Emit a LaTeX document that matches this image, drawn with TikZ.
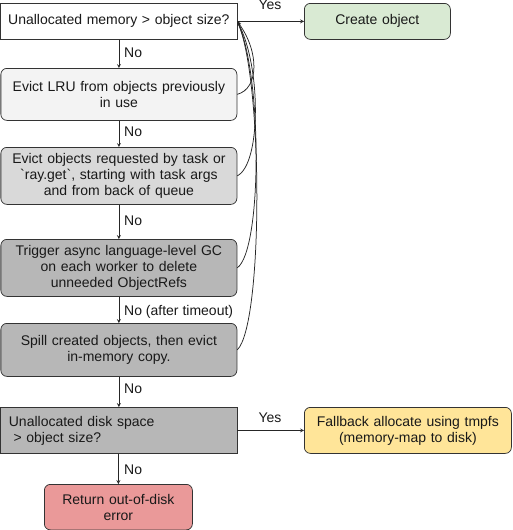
\documentclass[tikz,border=0pt]{standalone}
\usepackage{fontspec}
\setmainfont{Liberation Sans}
\usetikzlibrary{positioning}

\definecolor{creategreen}{HTML}{D9EAD3}
\definecolor{lightgrey}{HTML}{F3F3F3}
\definecolor{midgrey}{HTML}{D9D9D9}
\definecolor{darkgrey}{HTML}{B7B7B7}
\definecolor{fallbackyellow}{HTML}{FFE599}
\definecolor{errorred}{HTML}{EA9999}

\begin{document}
\begin{tikzpicture}[x=1pt, y=-1pt]
    \tikzstyle{arrow} = [->,>=stealth, line width=0.75pt, draw=black!85]
    \tikzstyle{rec} = [rectangle, draw=black!80, line width=0.75pt,
        align=center, inner sep=0pt, text width=226pt, minimum width=236pt,
        font=\fontsize{14}{16}\selectfont, text=black!90]
    \tikzstyle{rrec} = [rec, rounded corners=6pt]
    \tikzstyle{lbl} = [font=\fontsize{14}{16}\selectfont, text=black!90,
        inner sep=0pt]

    \useasboundingbox (0,0) rectangle (512,530);

    \node(memcheck) [rec, fill=white, minimum height=36pt]
        at (0.5,3) [anchor=north west]
        {Unallocated memory > object size?};
    \node(create) [rrec, fill=creategreen, text width=140pt,
        minimum width=146pt, minimum height=36pt]
        at (304,3) [anchor=north west]
        {Create object};
    \node(evictlru) [rrec, fill=lightgrey, minimum height=52pt]
        at (0.5,68) [anchor=north west]
        {Evict LRU from objects previously\\ in use};
    \node(evicttask) [rrec, fill=midgrey, minimum height=57pt]
        at (0.5,147) [anchor=north west]
        {Evict objects requested by task or\\
        \textasciigrave ray.get\textasciigrave, starting with task args\\
        and from back of queue};
    \node(trigger) [rrec, fill=darkgrey, minimum height=57pt]
        at (0.5,239) [anchor=north west]
        {Trigger async language-level GC\\ on each worker to delete\\
        unneeded ObjectRefs};
    \node(spill) [rrec, fill=darkgrey, minimum height=53pt]
        at (0.5,323) [anchor=north west]
        {Spill created objects, then evict\\ in-memory copy.};
    \node(diskcheck) [rec, fill=darkgrey, align=left, text width=220pt,
        minimum height=46pt]
        at (0.5,407) [anchor=north west]
        {Unallocated disk space\\ \mbox{}\ > object size?};
    \node(fallback) [rrec, fill=fallbackyellow, text width=200pt,
        minimum width=207pt, minimum height=46pt]
        at (304,407) [anchor=north west]
        {Fallback allocate using tmpfs\\ (memory-map to disk)};
    \node(outofdisk) [rrec, fill=errorred, text width=140pt,
        minimum width=148pt, minimum height=45.5pt]
        at (44,484) [anchor=north west]
        {Return out-of-disk\\ error};

    \node(yesmem) [lbl] at (270,5) {Yes};
    \node(yesdisk) [lbl] at (270,418) {Yes};
    \node(no1) [lbl, anchor=west] at (124,53) {No};
    \node(no2) [lbl, anchor=west] at (124,132) {No};
    \node(no3) [lbl, anchor=west] at (124,221) {No};
    \node(no4) [lbl, anchor=west] at (124,312) {No (after timeout)};
    \node(no5) [lbl, anchor=west] at (124,389) {No};
    \node(no6) [lbl, anchor=west] at (124,470) {No};

    \draw[arrow] (memcheck) -- (create);
    \draw[arrow] (memcheck) -- (evictlru);
    \draw[arrow] (evictlru) -- (evicttask);
    \draw[arrow] (evicttask) -- (trigger);
    \draw[arrow] (trigger) -- (spill);
    \draw[arrow] (spill) -- (diskcheck);
    \draw[arrow] (diskcheck) -- (fallback);
    \draw[arrow] (diskcheck.south -| outofdisk.north) -- (outofdisk);

    \draw[arrow] (evictlru.east) .. controls +(22,-6) and +(22,30) ..
        (memcheck.east);
    \draw[arrow] (evicttask.east) .. controls +(24,-12) and +(24,45) ..
        (memcheck.east);
    \draw[arrow] (trigger.east) .. controls +(25,-18) and +(25,55) ..
        (memcheck.east);
    \draw[arrow] (spill.east) .. controls +(26,-25) and +(26,60) ..
        (memcheck.east);
\end{tikzpicture}
\end{document}
